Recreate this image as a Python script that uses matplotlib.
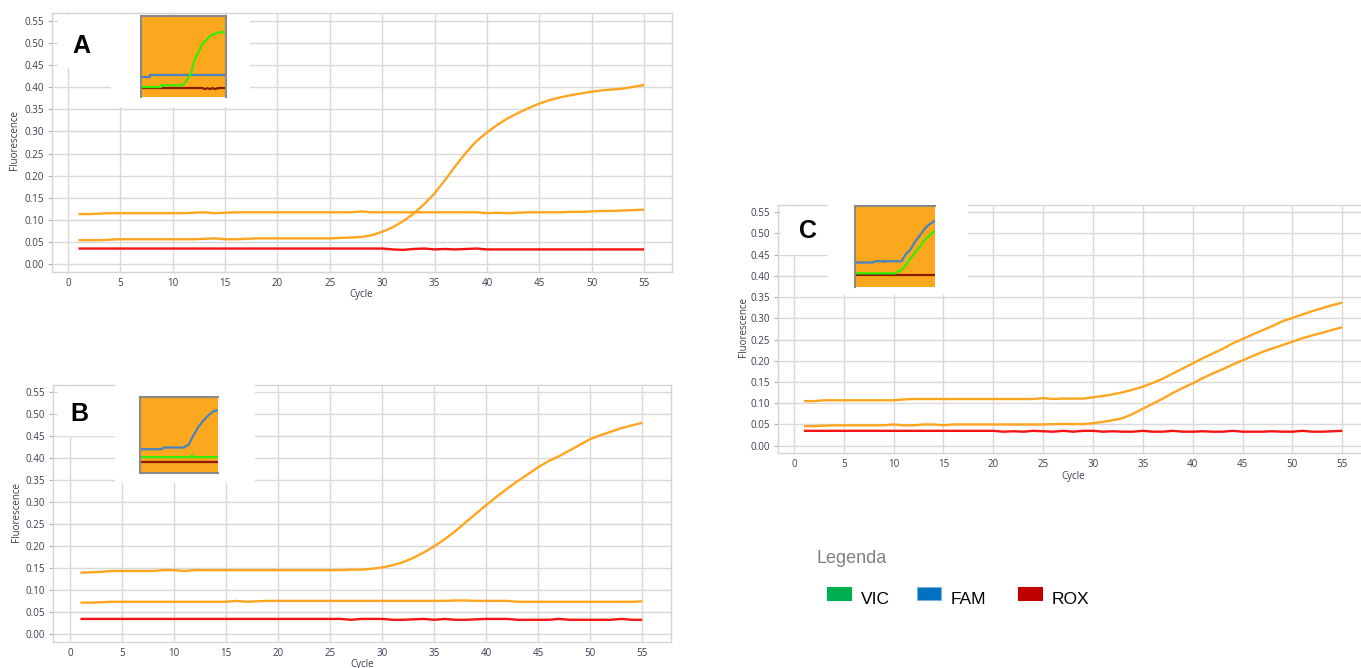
import matplotlib
matplotlib.use("Agg")
import matplotlib.pyplot as plt
from matplotlib.patches import Rectangle
import numpy as np

W, H = 1361, 668

cycles = list(range(1, 56))
xticks = list(range(0, 56, 5))
yticks = [0.00, 0.05, 0.10, 0.15, 0.20, 0.25, 0.30, 0.35, 0.40, 0.45, 0.50, 0.55]

# ---------------- Panel A ----------------
A_top = [.113, .113, .114, .115, .115, .115, .115, .115, .115, .115,
         .115, .116, .117, .115, .116, .117, .117, .117, .117, .117,
         .117, .117, .117, .117, .117, .117, .117, .119, .117, .117,
         .117, .117, .117, .117, .117, .117, .117, .117, .117, .115,
         .116, .115, .116, .117, .117, .117, .117, .118, .118, .119,
         .120, .120, .121, .122, .123]
A_sig = [.054, .054, .054, .055, .056, .056, .056, .056, .056, .056,
         .056, .056, .057, .058, .056, .056, .057, .058, .058, .058,
         .058, .058, .058, .058, .058, .059, .060, .061, .065, .073,
         .083, .097, .114, .135, .160, .190, .222, .252, .278, .298,
         .315, .330, .342, .353, .363, .371, .377, .382, .386, .390,
         .393, .395, .397, .401, .405]
A_red = [.035] * 30 + [.033, .032, .034, .035, .033, .034, .033, .034, .035, .033,
                       .033, .033, .033, .033, .033, .033, .033, .033, .033, .033,
                       .033, .033, .033, .033, .033]

# ---------------- Panel B ----------------
B_top = [.140, .141, .142, .144, .144, .144, .144, .144, .146, .146,
         .144, .146, .146, .146, .146, .146, .146, .146, .146, .146,
         .146, .146, .146, .146, .146, .146, .147, .147, .149, .152,
         .157, .164, .174, .186, .200, .216, .234, .254, .274, .294,
         .313, .331, .348, .364, .380, .394, .405, .418, .431, .444,
         .453, .461, .469, .475, .481]
B_flat = [.072, .072, .073, .074, .074, .074, .074, .074, .074, .074,
          .074, .074, .074, .074, .074, .076, .074, .075, .076, .076,
          .076, .076, .076, .076, .076, .076, .076, .076, .076, .076,
          .076, .076, .076, .076, .076, .076, .077, .077, .076, .076,
          .076, .076, .074, .074, .074, .074, .074, .074, .074, .074,
          .074, .074, .074, .074, .075]
B_red = [.035] * 26 + [.033, .035, .035, .035, .033, .033, .034, .035, .033, .035,
                       .033, .033, .034, .035, .035, .035, .033, .033, .033, .033,
                       .035, .033, .033, .033, .033, .033, .035, .033, .033]

# ---------------- Panel C ----------------
C_top = [.105, .105, .107, .107, .107, .107, .107, .107, .107, .107,
         .109, .110, .110, .110, .110, .110, .110, .110, .110, .110,
         .110, .110, .110, .110, .112, .110, .111, .111, .111, .114,
         .117, .121, .126, .132, .139, .148, .158, .170, .182, .194,
         .206, .217, .228, .241, .251, .262, .272, .282, .293, .301,
         .309, .317, .324, .331, .337]
C_low = [.046, .046, .047, .048, .048, .048, .048, .048, .048, .050,
         .048, .048, .050, .050, .048, .050, .050, .050, .050, .050,
         .050, .050, .050, .050, .050, .051, .051, .051, .051, .053,
         .056, .060, .065, .075, .087, .099, .111, .124, .136, .147,
         .159, .170, .180, .191, .201, .211, .221, .229, .237, .245,
         .253, .260, .266, .273, .279]
C_red = [.035] * 20 + [.033, .034, .033, .035, .034, .033, .035, .033, .035, .035,
                       .033, .034, .033, .033, .035, .033, .033, .035, .033, .033,
                       .034, .033, .033, .035, .033, .033, .033, .034, .033, .033,
                       .035, .033, .033, .034, .035]

# ---------------- Inset traces (relative units) ----------------
insA_blue_x = [0.0, 0.10, 0.10, 1.0]
insA_blue_y = [0.247, 0.247, 0.267, 0.267]
insA_green_x = [0.0, 0.235, 0.235, 0.49, 0.52, 0.588, 0.627, 0.725, 0.82, 0.92, 1.0]
insA_green_y = [0.123, 0.123, 0.144, 0.144, 0.18, 0.288, 0.45, 0.658, 0.76, 0.80, 0.80]
insA_brown_x = [0.0, 0.72, 0.75, 0.78, 0.81, 0.84, 0.87, 0.90, 0.93, 1.0]
insA_brown_y = [0.111, 0.111, 0.098, 0.108, 0.098, 0.110, 0.098, 0.108, 0.111, 0.111]

insB_blue_x = [0.0, 0.279, 0.30, 0.558, 0.622, 0.687, 0.751, 0.815, 0.88, 0.944, 1.0]
insB_blue_y = [0.313, 0.313, 0.335, 0.335, 0.37, 0.50, 0.609, 0.696, 0.761, 0.813, 0.826]
insB_green_x = [0.0, 0.64, 0.665, 0.69, 1.0]
insB_green_y = [0.209, 0.209, 0.232, 0.209, 0.209]
insB_brown_x = [0.0, 1.0]
insB_brown_y = [0.139, 0.139]

insC_blue_x = [0.0, 0.229, 0.25, 0.35, 0.354, 0.375, 0.583, 0.625, 0.688, 0.75, 0.813, 0.875, 0.917, 1.0]
insC_blue_y = [0.302, 0.302, 0.318, 0.318, 0.31, 0.318, 0.318, 0.393, 0.455, 0.558, 0.64, 0.723, 0.764, 0.818]
insC_green_x = [0.0, 0.5, 0.542, 0.596, 0.646, 0.708, 0.792, 0.875, 0.938, 1.0]
insC_green_y = [0.169, 0.169, 0.194, 0.219, 0.289, 0.372, 0.475, 0.587, 0.64, 0.694]
insC_brown_x = [0.0, 1.0]
insC_brown_y = [0.145, 0.145]

legend_labels = ["VIC", "FAM", "ROX"]
legend_colors = ["#00B050", "#0070C0", "#C00000"]

ORANGE = "#FFA520"
RED = "#F41414"
GRID = "#D9D9D9"
TICKC = "#3C3C50"
INS_OR = "#FBA81E"
INS_BLUE = "#4683C0"
INS_GREEN = "#33EE00"
INS_BROWN = "#8B1A00"

plt.rcParams['font.family'] = ['Liberation Sans', 'DejaVu Sans']
SMALL = ['Open Sans', 'DejaVu Sans']

fig = plt.figure(figsize=(W / 100, H / 100), dpi=100)
fig.patch.set_facecolor("white")


def box(x0, y0, x1, y1):
    return [x0 / W, 1 - y1 / H, (x1 - x0) / W, (y1 - y0) / H]


def main_axes(px, xlim, ylim, series):
    ax = fig.add_axes(box(*px))
    ax.set_xlim(*xlim)
    ax.set_ylim(*ylim)
    ax.set_xticks(xticks)
    ax.set_yticks(yticks)
    ax.set_yticklabels([f"{v:.2f}" for v in yticks])
    ax.grid(True, color=GRID, lw=1.0)
    ax.set_axisbelow(True)
    for s in ax.spines.values():
        s.set_color("#D4D4D4")
        s.set_linewidth(1.0)
    ax.tick_params(axis='y', length=3, width=0.8, color="#B0B0B0", pad=2.5,
                   labelsize=7, labelcolor=TICKC)
    ax.tick_params(axis='x', length=0, pad=4.5, labelsize=7, labelcolor=TICKC)
    for lab in ax.get_xticklabels() + ax.get_yticklabels():
        lab.set_family(SMALL)
    for ys, c in series:
        ax.plot(cycles, ys, color=c, lw=1.7, solid_capstyle='butt')
    return ax


axA = main_axes((52, 13, 672, 272), (-1.53, 57.67), (-0.0181, 0.568),
                [(A_top, ORANGE), (A_sig, ORANGE), (A_red, RED)])
axB = main_axes((53, 385, 671, 642), (-1.63, 57.76), (-0.0175, 0.567),
                [(B_top, ORANGE), (B_flat, ORANGE), (B_red, RED)])
axC = main_axes((778, 205, 1361, 453), (-1.6, 56.88), (-0.0172, 0.567),
                [(C_top, ORANGE), (C_low, ORANGE), (C_red, RED)])
axC.spines['right'].set_visible(False)


def ptext(x, y, s, **kw):
    fig.text(x / W, 1 - y / H, s, **kw)


# axis labels
for (x, y) in [(15, 140), (17, 512), (743, 327)]:
    ptext(x, y, "Fluorescence", rotation=90, ha='center', va='center',
          fontsize=7, color=TICKC, family=SMALL)
for (x, y) in [(361, 295), (362, 665), (1073, 476)]:
    ptext(x, y, "Cycle", ha='center', va='center', fontsize=7, color=TICKC,
          family=SMALL)

# white patches behind insets
for (x0, y0, x1, y1) in [(58, 15, 112, 68), (111, 15, 250, 107),
                         (58, 387, 115, 436), (115, 383, 255, 483),
                         (781, 207, 828, 255), (828, 200, 968, 295)]:
    fig.add_artist(Rectangle((x0 / W, 1 - y1 / H), (x1 - x0) / W, (y1 - y0) / H,
                             transform=fig.transFigure, facecolor="white",
                             edgecolor="none", zorder=1))


def inset(px, traces, spines):
    ax = fig.add_axes(box(*px), zorder=3)
    ax.set_facecolor(INS_OR)
    ax.set_xlim(0, 1)
    ax.set_ylim(0, 1)
    ax.set_xticks([])
    ax.set_yticks([])
    for k, s in ax.spines.items():
        s.set_visible(k in spines)
        s.set_color("#8A8A8A")
        s.set_linewidth(1.5)
    for xs, ys, c in traces:
        ax.plot(xs, ys, color=c, lw=1.6)
    return ax


inset((141, 16, 226, 97),
      [(insA_blue_x, insA_blue_y, INS_BLUE), (insA_brown_x, insA_brown_y, INS_BROWN),
       (insA_green_x, insA_green_y, INS_GREEN)],
      ('left', 'top', 'right'))
inset((140, 397, 218, 473),
      [(insB_brown_x, insB_brown_y, INS_BROWN), (insB_green_x, insB_green_y, INS_GREEN),
       (insB_blue_x, insB_blue_y, INS_BLUE)],
      ('left', 'top', 'bottom'))
inset((855, 206, 935, 287),
      [(insC_brown_x, insC_brown_y, INS_BROWN), (insC_green_x, insC_green_y, INS_GREEN),
       (insC_blue_x, insC_blue_y, INS_BLUE)],
      ('left', 'top'))

# panel letters
for (x, y, s) in [(81, 46, "A"), (79, 414, "B"), (808, 231, "C")]:
    ptext(x, y, s, ha='center', va='center', fontsize=18, fontweight='bold',
          color='black', zorder=5)

# legend
ptext(816, 563, "Legenda", ha='left', va='baseline', fontsize=13, color="#808080")
sq_x = [827, 917, 1018]
for x0, lab, col in zip(sq_x, legend_labels, legend_colors):
    fig.add_artist(Rectangle((x0 / W, 1 - 600 / H), 24 / W, 13 / H,
                             transform=fig.transFigure, facecolor=col,
                             edgecolor="#7FB2E0" if lab == "FAM" else col,
                             lw=0.8, zorder=2))
    ptext(x0 + 34, 604, lab, ha='left', va='baseline', fontsize=12.5, color='black')

fig.savefig("out.png", dpi=100, facecolor="white")
